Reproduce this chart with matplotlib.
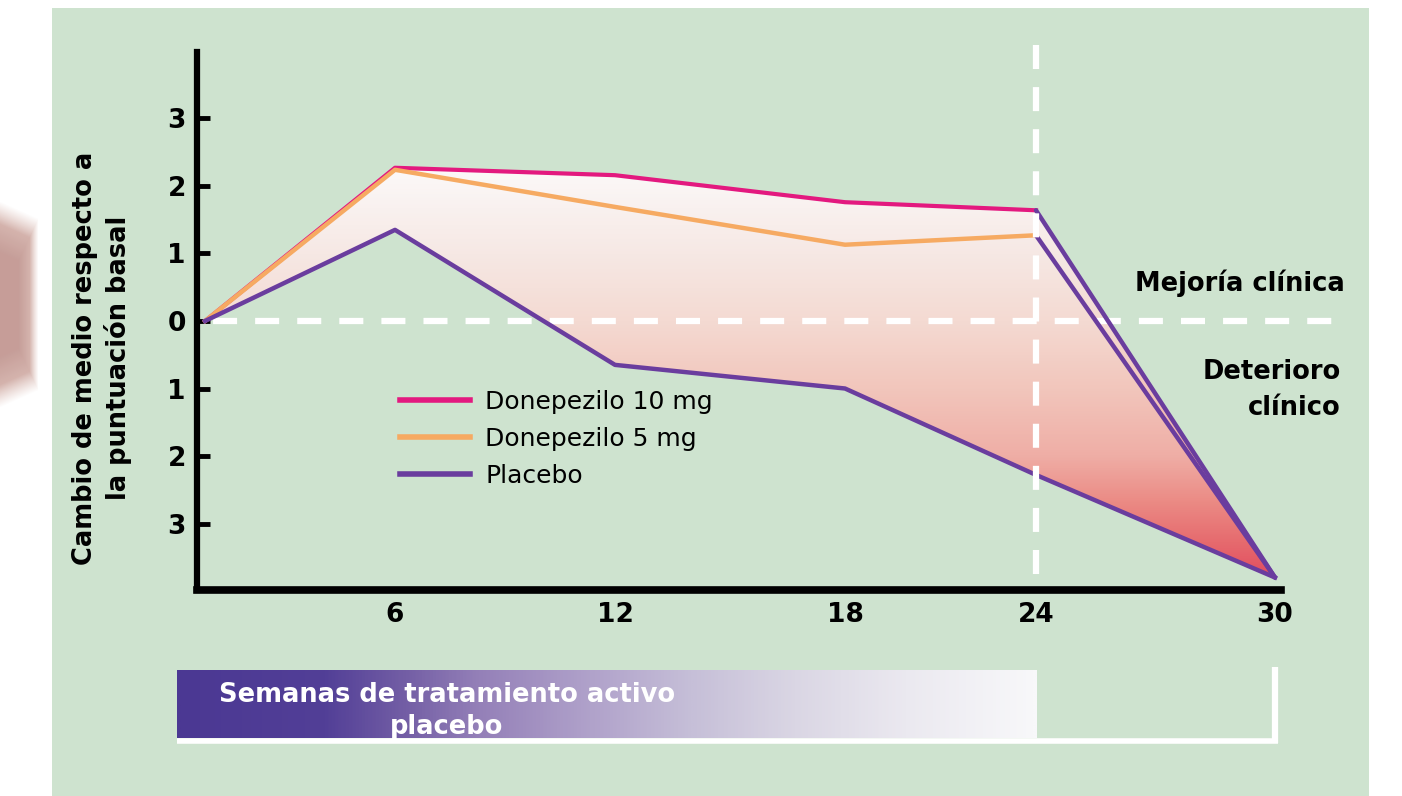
import numpy as np
import matplotlib
matplotlib.use("Agg")
import matplotlib.pyplot as plt
from matplotlib.colors import LinearSegmentedColormap, to_rgb
from matplotlib.lines import Line2D
from matplotlib.patches import Rectangle, Polygon

plt.rcParams['font.family'] = ['DejaVu Sans']
plt.rcParams['lines.scale_dashes'] = False

# ---------------- data ----------------
WEEKS = [0, 6, 12, 18, 24, 30]
ACTIVE_WEEKS = [0, 6, 12, 18, 24]
DONEPEZILO_10 = [0, 2.27, 2.16, 1.76, 1.64]
DONEPEZILO_5 = [0, 2.24, 1.69, 1.13, 1.27]
PLACEBO = [0, 1.35, -0.65, -1.00, -2.28, -3.80]
WASHOUT_END = -3.80          # all groups at week 30 (placebo phase)

Y_TICKS = [-3, -2, -1, 0, 1, 2, 3]
Y_TICK_LABELS = ["3", "2", "1", "0", "1", "2", "3"]
X_TICKS = [6, 12, 18, 24, 30]
X_TICK_LABELS = ["6", "12", "18", "24", "30"]

SERIES_LABELS = ["Donepezilo 10 mg", "Donepezilo 5 mg", "Placebo"]
Y_LABEL = "Cambio de medio respecto a\nla puntuación basal"
BAR_TEXT = "Semanas de tratamiento activo\nplacebo"

# ---------------- style ----------------
W, H = 1402, 796
BG_GREEN = "#cee3cf"
C10 = "#e3197f"
C5 = "#f6aa62"
CPL = "#6a3d9e"

fig = plt.figure(figsize=(W / 100, H / 100), dpi=100)
fig.patch.set_facecolor("white")


def fx(px):
    return px / W


def fy(py):
    return 1 - py / H


# green panel
fig.add_artist(Rectangle((fx(52), 0), fx(1369) - fx(52), fy(8), transform=fig.transFigure,
                         facecolor=BG_GREEN, edgecolor="none", zorder=0))

# soft rose blob at the far left edge
blob_ax = fig.add_axes([0, fy(412), fx(50), fy(196) - fy(412)])
blob_ax.set_axis_off()
yy, xx = np.mgrid[0:216, 0:50].astype(float)
d = np.maximum(np.abs(xx + 2) / 40.0, (0.45 * np.abs(xx + 2) + np.abs(yy - 108)) / 104.0)
alpha = np.clip((1 - d) / 0.22, 0, 1) * 0.88
base = np.array(to_rgb("#dcbdb5"))
dark = np.array(to_rgb("#be908a"))
mix = np.clip((1 - d) / 0.5, 0, 1)[..., None]
rgb = base * (1 - mix) + dark * mix
blob_ax.imshow(np.dstack([rgb, alpha]), aspect="auto", extent=[0, 1, 0, 1],
               interpolation="bilinear")
blob_ax.set_xlim(0, 1)
blob_ax.set_ylim(0, 1)

# ---------------- main axes ----------------
AX_L, AX_R, AX_T, AX_B = 197, 1281, 52, 590
ax = fig.add_axes([fx(AX_L), fy(AX_B), fx(AX_R) - fx(AX_L), fy(AX_T) - fy(AX_B)])
ax.set_facecolor("none")

# uneven horizontal spacing of the week axis
KNOT_WEEKS = np.array([0, 6, 12, 18, 24, 30], dtype=float)
KNOT_POS = np.array([205, 395, 615, 845, 1036, 1275], dtype=float)


def _pw(v, a, b):
    v = np.asarray(v, dtype=float)
    out = np.interp(v, a, b)
    s0 = (b[1] - b[0]) / (a[1] - a[0])
    s1 = (b[-1] - b[-2]) / (a[-1] - a[-2])
    out = np.where(v < a[0], b[0] + (v - a[0]) * s0, out)
    out = np.where(v > a[-1], b[-1] + (v - a[-1]) * s1, out)
    return out


def fwd(v):
    return _pw(v, KNOT_WEEKS, KNOT_POS)


def inv(v):
    return _pw(v, KNOT_POS, KNOT_WEEKS)


ax.set_xscale("function", functions=(fwd, inv))
ax.set_xlim(float(inv(AX_L)), float(inv(AX_R)))
ax.set_ylim(-3.985, 3.985)

# shaded area between the best active curve and placebo
upper = list(np.maximum(DONEPEZILO_10, DONEPEZILO_5)) + [WASHOUT_END]
verts = list(zip(WEEKS, upper)) + list(zip(WEEKS[::-1], PLACEBO[::-1]))
region = Polygon(verts, closed=True, transform=ax.transData, facecolor="none",
                 edgecolor="none")
ax.add_patch(region)

stops = [(2.35, "#fcfafa"), (1.0, "#f6e8e4"), (0.0, "#f4dad2"), (-1.0, "#f2c6bc"),
         (-2.0, "#efaea6"), (-2.7, "#eb8a84"), (-3.3, "#e66a6e"), (-3.85, "#e14a5e")]
lo_v, hi_v = stops[-1][0], stops[0][0]
grad_cmap = LinearSegmentedColormap.from_list(
    "fill", [((v - lo_v) / (hi_v - lo_v), c) for v, c in stops[::-1]])
ylo, yhi = ax.get_ylim()
vals = np.linspace(yhi, ylo, 600)[:, None]
img = ax.imshow(vals, cmap=grad_cmap, vmin=lo_v, vmax=hi_v, aspect="auto",
                extent=[0, 1, 0, 1], transform=ax.transAxes, interpolation="bilinear",
                zorder=1)
img.set_clip_path(region)

# reference lines
dash = (0, (17.3, 13.0))
ax.plot([0, 31.5], [0, 0], color="white", lw=4.5, linestyle=(24.5, (17.3, 13.0)),
        clip_on=False, zorder=2, solid_capstyle="butt")

# series
ax.plot(ACTIVE_WEEKS, DONEPEZILO_10, color=C10, lw=3.0, zorder=3,
        solid_joinstyle="round", label=SERIES_LABELS[0])
ax.plot(ACTIVE_WEEKS, DONEPEZILO_5, color=C5, lw=3.2, zorder=4,
        solid_joinstyle="round", label=SERIES_LABELS[1])
ax.plot(WEEKS, PLACEBO, color=CPL, lw=3.2, zorder=4, solid_joinstyle="round",
        label=SERIES_LABELS[2])
# switch to placebo after week 24
for start in (DONEPEZILO_10[-1], DONEPEZILO_5[-1]):
    ax.plot([24, 30], [start, WASHOUT_END], color=CPL, lw=3.2, zorder=4,
            solid_capstyle="round")

ax.plot([24, 24], [4.09, -3.76], color="white", lw=4.5, linestyle=dash,
        clip_on=False, zorder=5, solid_capstyle="butt")

# axes styling
for s in ("top", "right"):
    ax.spines[s].set_visible(False)
ax.spines["left"].set_linewidth(4.5)
ax.spines["bottom"].set_linewidth(5.5)
ax.spines["left"].set_capstyle("projecting")
ax.spines["bottom"].set_capstyle("projecting")

ax.set_yticks(Y_TICKS)
ax.set_yticklabels(Y_TICK_LABELS)
ax.tick_params(axis="y", direction="in", length=9, width=3.5, pad=8,
               labelsize=19, color="black")
ax.set_xticks(X_TICKS)
ax.set_xticklabels(X_TICK_LABELS)
ax.tick_params(axis="x", length=0, pad=9, labelsize=19)
for lab in ax.get_xticklabels() + ax.get_yticklabels():
    lab.set_fontweight("bold")
ax.minorticks_off()

fig.text(fx(102), fy(358), Y_LABEL, rotation=90, ha="center", va="center",
         multialignment="center", fontsize=18.5, fontweight="bold", linespacing=1.3)

# side annotations
fig.text(fx(1345), fy(283), "Mejoría clínica", ha="right", va="center",
         fontsize=18.5, fontweight="bold")
fig.text(fx(1341), fy(390), "Deterioro\nclínico", ha="right", va="center",
         multialignment="right", fontsize=18.5, fontweight="bold", linespacing=1.5)

# legend
leg = ax.legend(loc="upper left", bbox_to_anchor=(fx(400), fy(390)),
                bbox_transform=fig.transFigure, frameon=False, fontsize=18,
                handlelength=2.8, handletextpad=0.6, labelspacing=0.52,
                borderpad=0, borderaxespad=0)
for h in leg.legend_handles:
    h.set_linewidth(4)

# ---------------- treatment bar ----------------
bar_ax = fig.add_axes([fx(177), fy(738), fx(1037) - fx(177), fy(670) - fy(738)])
bar_ax.set_axis_off()
bar_stops = [(0.0, "#4b3893"), (0.17, "#523f97"), (0.27, "#7560a6"), (0.35, "#9480b8"),
             (0.47, "#ae9fc9"), (0.60, "#c6bfd8"), (0.72, "#dad6e4"), (0.85, "#ebe9f0"),
             (1.0, "#f8f8fa")]
bar_cmap = LinearSegmentedColormap.from_list("bar", bar_stops)
bar_ax.imshow(np.linspace(0, 1, 800)[None, :], cmap=bar_cmap, aspect="auto",
              extent=[0, 1, 0, 1], interpolation="bilinear")
bar_ax.set_xlim(0, 1)
bar_ax.set_ylim(0, 1)

fig.add_artist(Line2D([fx(177), fx(1278)], [fy(741), fy(741)], color="white", lw=4,
                      transform=fig.transFigure, solid_capstyle="butt"))
fig.add_artist(Line2D([fx(1275), fx(1275)], [fy(667), fy(743)], color="white", lw=4.5,
                      transform=fig.transFigure, solid_capstyle="butt"))
fig.text(fx(447), fy(711), BAR_TEXT, ha="center", va="center", multialignment="center",
         color="white", fontsize=18.5, fontweight="bold", linespacing=1.28)

fig.savefig("out.png", dpi=100, facecolor=fig.get_facecolor())
